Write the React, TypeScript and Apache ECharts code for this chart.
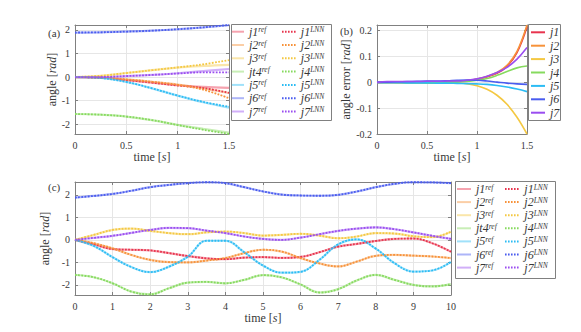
import { useEffect, useRef } from "react";
import * as echarts from "echarts";

const SERIF = "'Liberation Serif', 'Times New Roman', Times, serif";
const TXT = "#383838";
const AXIS = "#808080";
const GRIDLINE = "#e6e6e6";

const JOINTS = ["j1", "j2", "j3", "j4", "j5", "j6", "j7"];
const REF_LEGEND_JOINTS = ["j1", "j2", "j3", "jt4", "j5", "j6", "j7"];
const COLORS = ["#e8344e", "#f7923a", "#f4c842", "#86da5e", "#2cbcf4", "#4a5cef", "#9a4df0"];

// (a) first 1.5 s
const TIME_A = [0, 0.25, 0.5, 0.75, 1, 1.25, 1.5];
const REF_A = [
  [0, -0.03, -0.13, -0.24, -0.35, -0.42, -0.46],
  [0, -0.02, -0.1, -0.2, -0.32, -0.48, -0.68],
  [0, 0.05, 0.17, 0.29, 0.4, 0.47, 0.52],
  [-1.57, -1.6, -1.68, -1.83, -2.03, -2.2, -2.36],
  [0, -0.04, -0.21, -0.48, -0.79, -1.07, -1.3],
  [1.89, 1.9, 1.93, 1.97, 2.03, 2.11, 2.2],
  [0, 0.0, 0.04, 0.09, 0.16, 0.25, 0.34],
];
const LNN_A = [
  [0, -0.03, -0.13, -0.24, -0.36, -0.47, -0.67],
  [0, -0.02, -0.1, -0.2, -0.33, -0.54, -0.9],
  [0, 0.05, 0.17, 0.29, 0.41, 0.54, 0.72],
  [-1.57, -1.6, -1.68, -1.83, -2.04, -2.24, -2.42],
  [0, -0.04, -0.21, -0.48, -0.79, -1.06, -1.26],
  [1.89, 1.9, 1.93, 1.97, 2.03, 2.11, 2.21],
  [0, 0.0, 0.04, 0.09, 0.15, 0.2, 0.2],
];

// (b) angle error
const TIME_B = [0, 0.1, 0.2, 0.3, 0.4, 0.5, 0.6, 0.7, 0.8, 0.9, 1.0, 1.1, 1.2, 1.3, 1.4, 1.5];
const ERR_B = [
  [0, 0, 0, 0, 0, 0, 0, 0.001, 0.003, 0.006, 0.012, 0.021, 0.035, 0.062, 0.115, 0.215],
  [0, 0, 0, 0, 0, 0, 0, 0.001, 0.003, 0.007, 0.013, 0.023, 0.038, 0.066, 0.12, 0.222],
  [0, 0, 0, 0, 0, 0, 0, -0.001, -0.002, -0.005, -0.013, -0.027, -0.05, -0.085, -0.135, -0.2],
  [0, 0, -0.001, -0.002, -0.002, -0.003, -0.003, -0.002, 0.001, 0.004, 0.008, 0.015, 0.027, 0.042, 0.056, 0.063],
  [0, -0.001, -0.001, -0.002, -0.002, -0.002, -0.003, -0.003, -0.004, -0.005, -0.006, -0.008, -0.012, -0.018, -0.026, -0.036],
  [0, 0.001, 0.002, 0.003, 0.004, 0.005, 0.005, 0.006, 0.008, 0.009, 0.008, 0.005, 0.001, -0.003, -0.006, -0.008],
  [0, 0.003, 0.003, 0.003, 0.003, 0.004, 0.004, 0.005, 0.005, 0.008, 0.014, 0.024, 0.038, 0.058, 0.09, 0.135],
];

// (c) full 10 s trajectory
const TIME_C = [0, 0.5, 1, 1.5, 2, 2.5, 3, 3.5, 4, 4.5, 5, 5.5, 6, 6.5, 7, 7.5, 8, 8.5, 9, 9.5, 10];
const REF_C = [
  [0, -0.2, -0.41, -0.44, -0.47, -0.59, -0.72, -0.82, -0.86, -0.79, -0.77, -0.8, -0.76, -0.55, -0.3, -0.18, -0.05, 0.04, 0.06, -0.15, -0.53],
  [0, -0.15, -0.38, -0.67, -0.89, -0.99, -1.0, -0.92, -0.81, -0.59, -0.44, -0.52, -0.81, -1.05, -1.18, -0.96, -0.71, -0.67, -0.7, -0.74, -0.81],
  [0, 0.22, 0.44, 0.5, 0.4, 0.3, 0.25, 0.33, 0.37, 0.3, 0.19, 0.22, 0.27, 0.19, 0.07, 0.15, 0.3, 0.28, 0.16, 0.12, 0.36],
  [-1.56, -1.66, -1.93, -2.3, -2.42, -2.15, -1.9, -1.87, -1.93, -1.78, -1.57, -1.67, -1.98, -2.34, -2.19, -1.8, -1.56, -1.78, -2.0, -2.07, -1.97],
  [0, -0.27, -0.77, -1.21, -1.43, -1.19, -0.75, -0.04, -0.04, -0.55, -1.14, -1.46, -1.42, -0.89, -0.2, 0.02, -0.39, -1.04, -1.41, -1.36, -0.98],
  [1.88, 1.95, 2.04, 2.18, 2.34, 2.44, 2.52, 2.56, 2.52, 2.34, 2.15, 2.01, 1.97, 1.96, 2.0, 2.15, 2.34, 2.49, 2.56, 2.55, 2.52],
  [0, 0.09, 0.18, 0.31, 0.44, 0.53, 0.52, 0.41, 0.3, 0.15, 0.04, 0.0, 0.1, 0.25, 0.4, 0.5, 0.55, 0.47, 0.33, 0.18, 0.04],
];
const LNN_C = REF_C;

const X_TICKS_A = { min: 0, max: 1.5, interval: 0.5 };
const X_TICKS_C = { min: 0, max: 10, interval: 1 };
const Y_RANGE_A = { min: -2.42, max: 2.21, step: 1 };
const Y_RANGE_B = { min: -0.2, max: 0.222, step: 0.1 };
const Y_RANGE_C = { min: -2.45, max: 2.57, step: 1 };

const DOTTED_ICON = "path://M0,0h1.6v2h-1.6zM3,0h1.6v2h-1.6zM6,0h1.6v2h-1.6zM9,0h1.6v2h-1.6zM12,0h1.6v2h-1.6z";
const SOLID_ICON = "rect";

const pairs = (x: number[], y: number[]) => x.map((t, i) => [t, y[i]]);

const fade = (hex: string, a: number) => {
  const n = parseInt(hex.slice(1), 16);
  return `rgba(${(n >> 16) & 255},${(n >> 8) & 255},${n & 255},${a})`;
};

const nameStyle = {
  color: TXT,
  fontFamily: SERIF,
  fontSize: 12,
  rich: {
    i: { fontFamily: SERIF, fontStyle: "italic" as const, fontSize: 12, color: TXT },
  },
};

function xAxes(gi: number, r: { min: number; max: number; interval: number }, gap: number) {
  return [
    {
      type: "value",
      gridIndex: gi,
      position: "bottom",
      min: r.min,
      max: r.max,
      interval: r.interval,
      axisLine: { show: true, onZero: false, lineStyle: { color: AXIS, width: 1 } },
      axisTick: { show: true, inside: true, length: 3, lineStyle: { color: AXIS } },
      axisLabel: { color: TXT, fontFamily: SERIF, fontSize: 10, margin: 6 },
      splitLine: { show: true, lineStyle: { color: GRIDLINE, width: 1 } },
      name: "time [{i|s}]",
      nameLocation: "middle",
      nameGap: gap,
      nameTextStyle: nameStyle,
    },
    {
      type: "value",
      gridIndex: gi,
      position: "top",
      min: r.min,
      max: r.max,
      interval: r.interval,
      axisLine: { show: true, onZero: false, lineStyle: { color: AXIS, width: 1 } },
      axisTick: { show: true, inside: true, length: 3, lineStyle: { color: AXIS } },
      axisLabel: { show: false },
      splitLine: { show: false },
    },
  ];
}

function yAxes(gi: number, r: { min: number; max: number; step: number }, name: string, gap: number) {
  const fmt = (v: number) => {
    const k = v / r.step;
    if (Math.abs(k - Math.round(k)) > 1e-6) return "";
    const val = Math.round(k) * r.step;
    return String(Math.round(val * 1000) / 1000);
  };
  return [
    {
      type: "value",
      gridIndex: gi,
      position: "left",
      min: r.min,
      max: r.max,
      minInterval: r.step,
      maxInterval: r.step,
      axisLine: { show: true, onZero: false, lineStyle: { color: AXIS, width: 1 } },
      axisTick: { show: true, inside: true, length: 3, lineStyle: { color: AXIS } },
      axisLabel: { color: TXT, fontFamily: SERIF, fontSize: 10, margin: 5, formatter: fmt, showMinLabel: true, showMaxLabel: true },
      splitLine: { show: true, lineStyle: { color: GRIDLINE, width: 1 } },
      name,
      nameLocation: "middle",
      nameGap: gap,
      nameTextStyle: nameStyle,
    },
    {
      type: "value",
      gridIndex: gi,
      position: "right",
      min: r.min,
      max: r.max,
      minInterval: r.step,
      maxInterval: r.step,
      axisLine: { show: true, onZero: false, lineStyle: { color: AXIS, width: 1 } },
      axisTick: { show: true, inside: true, length: 3, lineStyle: { color: AXIS } },
      axisLabel: { show: false },
      splitLine: { show: false },
    },
  ];
}

function refSeries(name: string, x: number[], y: number[], color: string, axis: number) {
  return {
    type: "line",
    name,
    xAxisIndex: axis,
    yAxisIndex: axis,
    data: pairs(x, y),
    smooth: 0.4,
    symbol: "none",
    color: fade(color, 0.45),
    lineStyle: { color: fade(color, 0.45), width: 2.2, type: "solid" },
    z: 2,
  };
}

function lnnSeries(name: string, x: number[], y: number[], color: string, axis: number) {
  return {
    type: "line",
    name,
    xAxisIndex: axis,
    yAxisIndex: axis,
    data: pairs(x, y),
    smooth: 0.4,
    symbol: "none",
    color,
    lineStyle: { color, width: 1.8, type: [1.8, 1.4] },
    z: 3,
  };
}

function errSeries(name: string, x: number[], y: number[], color: string, axis: number) {
  return {
    type: "line",
    name,
    xAxisIndex: axis,
    yAxisIndex: axis,
    data: pairs(x, y),
    smooth: 0.4,
    symbol: "none",
    color,
    lineStyle: { color, width: 1.6, type: "solid" },
    z: 3,
  };
}

const legendRich = {
  m: { fontFamily: SERIF, fontStyle: "italic" as const, fontSize: 12, lineHeight: 12, color: TXT },
  s: { fontFamily: SERIF, fontStyle: "italic" as const, fontSize: 7.5, lineHeight: 8, color: TXT, verticalAlign: "top" as const },
};

const legendFormatter = (name: string) => {
  const parts = name.split("|");
  const sup = parts[2] ? `{s|${parts[2]}}` : "";
  return `{m|${parts[3] || parts[1]}}${sup}`;
};

function legend(names: string[], left: number, top: number, itemWidth: number, gap: number, icon: string) {
  return {
    show: true,
    orient: "vertical",
    left,
    top,
    padding: 0,
    itemGap: gap,
    itemWidth,
    itemHeight: 2,
    icon,
    selectedMode: false,
    data: names,
    formatter: legendFormatter,
    textStyle: { rich: legendRich, color: TXT },
  };
}

export default function App() {
  const ref = useRef<HTMLDivElement>(null);
  useEffect(() => {
    if (!ref.current) return;
    const chart = echarts.init(ref.current, undefined, { renderer: "svg" });

    const series: any[] = [];
    const aRef: string[] = [];
    const aLnn: string[] = [];
    const bNames: string[] = [];
    const cRef: string[] = [];
    const cLnn: string[] = [];

    JOINTS.forEach((j, k) => {
      const nr = `a|${j}|ref|${REF_LEGEND_JOINTS[k]}`;
      aRef.push(nr);
      series.push(refSeries(nr, TIME_A, REF_A[k], COLORS[k], 0));
    });
    JOINTS.forEach((j, k) => {
      const nl = `a|${j}|LNN`;
      aLnn.push(nl);
      series.push(lnnSeries(nl, TIME_A, LNN_A[k], COLORS[k], 0));
    });
    JOINTS.forEach((j, k) => {
      const nb = `b|${j}|`;
      bNames.push(nb);
      series.push(errSeries(nb, TIME_B, ERR_B[k], COLORS[k], 1));
    });
    JOINTS.forEach((j, k) => {
      const nr = `c|${j}|ref|${REF_LEGEND_JOINTS[k]}`;
      cRef.push(nr);
      series.push(refSeries(nr, TIME_C, REF_C[k], COLORS[k], 2));
    });
    JOINTS.forEach((j, k) => {
      const nl = `c|${j}|LNN`;
      cLnn.push(nl);
      series.push(lnnSeries(nl, TIME_C, LNN_C[k], COLORS[k], 2));
    });

    const xa = [xAxes(0, X_TICKS_A, 16), xAxes(1, X_TICKS_A, 16), xAxes(2, X_TICKS_C, 15)];
    const ya = [
      yAxes(0, Y_RANGE_A, "angle [{i|rad}]", 13),
      yAxes(1, Y_RANGE_B, "angle error [{i|rad}]", 22),
      yAxes(2, Y_RANGE_C, "angle [{i|rad}]", 13),
    ];

    const boxStyle = { fill: "none", stroke: AXIS, lineWidth: 1 };
    const labelStyle = (text: string) => ({ text, font: `11px ${SERIF}`, fill: TXT, textVerticalAlign: "middle" });

    chart.setOption({
      animation: false,
      backgroundColor: "#ffffff",
      textStyle: { fontFamily: SERIF },
      grid: [
        { left: 75, top: 25, width: 154, height: 109 },
        { left: 377, top: 25, width: 150, height: 109 },
        { left: 75, top: 182, width: 376, height: 113 },
      ],
      xAxis: [xa[0][0], xa[1][0], xa[2][0], xa[0][1], xa[1][1], xa[2][1]],
      yAxis: [ya[0][0], ya[1][0], ya[2][0], ya[0][1], ya[1][1], ya[2][1]],
      legend: [
        legend(aRef, 232, 25.7, 12, 1.3, SOLID_ICON),
        legend(aLnn, 282, 25.7, 14, 1.3, DOTTED_ICON),
        legend(bNames, 531, 26.3, 14, 1.4, SOLID_ICON),
        legend(cRef, 457, 183, 14, 1.1, SOLID_ICON),
        legend(cLnn, 505, 183, 15, 1.1, DOTTED_ICON),
      ],
      graphic: [
        { type: "rect", shape: { x: 231.5, y: 24.5, width: 100, height: 96 }, style: boxStyle, silent: true },
        { type: "rect", shape: { x: 528.5, y: 24.5, width: 32, height: 96 }, style: boxStyle, silent: true },
        { type: "rect", shape: { x: 455.5, y: 181.5, width: 100, height: 97 }, style: boxStyle, silent: true },
        { type: "text", x: 48, y: 33, style: labelStyle("(a)") },
        { type: "text", x: 340, y: 31, style: labelStyle("(b)") },
        { type: "text", x: 48, y: 187, style: labelStyle("(c)") },
      ],
      series,
    });
    return () => chart.dispose();
  }, []);
  return <div ref={ref} style={{ position: "fixed", left: 0, top: 0, width: 581, height: 332 }} />;
}
